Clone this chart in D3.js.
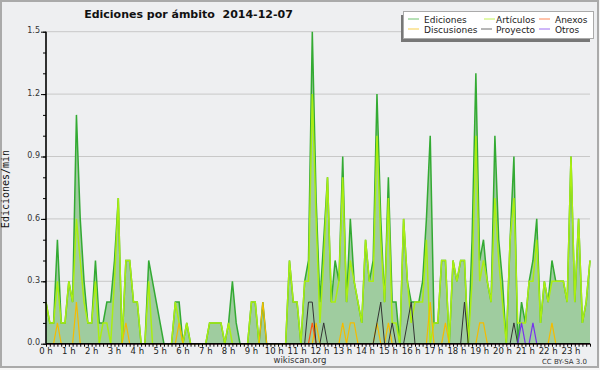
<!DOCTYPE html>
<html lang="es">

<head>
  <meta charset="UTF-8">
  <title>Ediciones por ámbito 2014-12-07</title>
  <style>
    body {
      margin: 0;
      background: #f5f5f5;
    }

    text {
      font-family: 'DejaVu Sans', sans-serif;
    }
  </style>
</head>

<body>
  <div id="chart"></div>

  <script src="https://cdnjs.cloudflare.com/ajax/libs/d3/7.8.5/d3.min.js"></script>
  <script>
    // Edits per minute, one value every 10 minutes (144 slots)
    let ediciones = [
      0.2, 0.1, 0.1, 0.5, 0.1, 0.1, 0.3, 0.2, 1.1, 0.6, 0.3, 0.1,
      0.1, 0.4, 0.1, 0.1, 0.2, 0.2, 0.4, 0.7, 0, 0.4, 0.4, 0.2,
      0.2, 0, 0, 0.4, 0.3, 0.2, 0.1, 0, 0, 0, 0.2, 0.2,
      0, 0.1, 0, 0, 0, 0, 0, 0.1, 0.1, 0.1, 0.1, 0,
      0.1, 0.3, 0.1, 0, 0, 0, 0.2, 0.2, 0, 0.2, 0, 0,
      0, 0, 0, 0, 0.4, 0.2, 0.2, 0, 0.3, 0.4, 1.5, 0.7,
      0.2, 0.5, 0.8, 0.2, 0.4, 0.3, 0.9, 0.2, 0.6, 0.3, 0.2, 0.1,
      0.5, 0.3, 0.4, 1.2, 0.6, 0.2, 0.8, 0.2, 0.2, 0, 0.6, 0.3,
      0.2, 0.2, 0.2, 0.3, 0.6, 1.0, 0.1, 0.1, 0.4, 0.4, 0, 0.4,
      0.3, 0.4, 0.4, 0, 0.5, 1.3, 0.4, 0.5, 0.3, 0.2, 1.0, 0.5,
      0.3, 0, 0.5, 0.9, 0, 0.2, 0.1, 0.3, 0.4, 0.6, 0.1, 0.3,
      0.2, 0.4, 0.3, 0.3, 0.3, 0.2, 0.9, 0.2, 0.6, 0.1, 0.2, 0.4
    ];

    let articulos = [
      0.2, 0.1, 0.1, 0.3, 0.1, 0.1, 0.3, 0.2, 0.6, 0.4, 0.2, 0.1,
      0.1, 0.3, 0, 0.1, 0.1, 0, 0.3, 0.7, 0, 0.4, 0.4, 0.2,
      0.2, 0, 0, 0.3, 0, 0, 0, 0, 0, 0, 0.2, 0.1,
      0, 0.1, 0, 0, 0, 0, 0, 0.1, 0.1, 0.1, 0.1, 0,
      0.1, 0, 0, 0, 0, 0, 0.2, 0.2, 0, 0, 0, 0,
      0, 0, 0, 0, 0.4, 0.2, 0.2, 0, 0.3, 0.3, 1.2, 0.6,
      0.1, 0.4, 0.8, 0.2, 0.2, 0.3, 0.8, 0.2, 0.4, 0.3, 0.2, 0.1,
      0.5, 0.3, 0.3, 1.0, 0.5, 0.2, 0.7, 0.1, 0.1, 0, 0.6, 0.3,
      0.1, 0.2, 0.2, 0.2, 0.5, 0, 0.1, 0.1, 0.4, 0.4, 0, 0.4,
      0.3, 0.4, 0.4, 0, 0.3, 1.0, 0.3, 0.4, 0.3, 0.2, 0.7, 0.4,
      0.2, 0, 0.5, 0.7, 0.1, 0.1, 0.1, 0.3, 0.3, 0.5, 0.1, 0.3,
      0.2, 0.3, 0.3, 0.3, 0.3, 0.2, 0.9, 0.2, 0.6, 0.1, 0.2, 0.4
    ];

    let discusiones = [
      0, 0, 0, 0.1, 0, 0, 0, 0, 0.2, 0, 0, 0,
      0, 0, 0, 0, 0, 0, 0, 0, 0, 0.1, 0, 0,
      0, 0, 0, 0, 0, 0, 0, 0, 0, 0, 0, 0.1,
      0, 0, 0, 0, 0, 0, 0, 0, 0, 0, 0, 0,
      0, 0, 0, 0, 0, 0, 0, 0, 0, 0.2, 0, 0,
      0, 0, 0, 0, 0, 0, 0, 0, 0, 0, 0, 0.1,
      0, 0, 0, 0, 0, 0, 0.1, 0, 0.1, 0.1, 0, 0,
      0, 0, 0, 0.1, 0, 0, 0.1, 0, 0, 0, 0, 0,
      0, 0, 0, 0, 0, 0.2, 0, 0, 0, 0.1, 0, 0,
      0, 0, 0, 0, 0, 0, 0.1, 0.1, 0, 0, 0, 0,
      0, 0, 0, 0, 0, 0, 0, 0, 0, 0, 0, 0,
      0, 0.1, 0, 0, 0, 0, 0, 0, 0, 0, 0, 0
    ];

    let proyecto = [
      0, 0, 0, 0, 0, 0, 0, 0, 0, 0, 0, 0,
      0, 0, 0, 0, 0, 0, 0, 0, 0, 0, 0, 0,
      0, 0, 0, 0, 0, 0, 0, 0, 0, 0, 0, 0,
      0, 0, 0, 0, 0, 0, 0, 0, 0, 0, 0, 0,
      0, 0, 0, 0, 0, 0, 0, 0, 0, 0, 0, 0,
      0, 0, 0, 0, 0, 0, 0, 0, 0, 0.2, 0.2, 0,
      0, 0.1, 0, 0, 0, 0, 0, 0, 0, 0, 0, 0,
      0, 0, 0, 0.1, 0.2, 0, 0, 0.1, 0, 0, 0, 0.1,
      0.2, 0, 0, 0, 0, 0, 0, 0, 0, 0, 0, 0,
      0, 0, 0.2, 0, 0, 0, 0, 0, 0, 0, 0, 0,
      0, 0, 0, 0.1, 0, 0, 0, 0, 0, 0, 0, 0,
      0, 0, 0, 0, 0, 0, 0, 0, 0, 0, 0, 0
    ];

    let anexos = [
      0, 0, 0, 0, 0, 0, 0, 0, 0, 0, 0, 0,
      0, 0, 0, 0, 0, 0, 0, 0, 0, 0, 0, 0,
      0, 0, 0, 0, 0, 0, 0, 0, 0, 0, 0, 0,
      0, 0, 0, 0, 0, 0, 0, 0, 0, 0, 0, 0,
      0, 0, 0, 0, 0, 0, 0, 0, 0, 0, 0, 0,
      0, 0, 0, 0, 0, 0, 0, 0, 0, 0, 0.1, 0,
      0, 0, 0, 0, 0, 0, 0, 0, 0, 0, 0, 0,
      0, 0, 0, 0, 0, 0, 0, 0, 0, 0, 0, 0,
      0, 0, 0, 0, 0, 0, 0, 0, 0, 0, 0, 0,
      0, 0, 0, 0, 0, 0, 0, 0, 0, 0, 0, 0,
      0, 0, 0, 0, 0, 0, 0, 0, 0, 0, 0, 0,
      0, 0, 0, 0, 0, 0, 0, 0, 0, 0, 0, 0
    ];

    let otros = [
      0, 0, 0, 0, 0, 0, 0, 0, 0, 0, 0, 0,
      0, 0, 0, 0, 0, 0, 0, 0, 0, 0, 0, 0,
      0, 0, 0, 0, 0, 0, 0, 0, 0, 0, 0, 0,
      0, 0, 0, 0, 0, 0, 0, 0, 0, 0, 0, 0,
      0, 0, 0, 0, 0, 0, 0, 0, 0, 0, 0, 0,
      0, 0, 0, 0, 0, 0, 0, 0, 0, 0, 0, 0,
      0, 0, 0, 0, 0, 0, 0, 0, 0, 0, 0, 0,
      0, 0, 0, 0, 0, 0, 0, 0, 0, 0, 0, 0,
      0, 0, 0, 0, 0, 0, 0, 0, 0, 0, 0, 0,
      0, 0, 0, 0, 0, 0, 0, 0, 0, 0, 0, 0,
      0, 0, 0, 0, 0, 0.1, 0, 0, 0.1, 0, 0, 0,
      0, 0, 0, 0, 0, 0, 0, 0, 0, 0, 0, 0
    ];

    // Hour labels every 6 slots
    let hours = d3.range(0, 24);
    let yTicks = [0, 0.3, 0.6, 0.9, 1.2, 1.5];

    let width = 600;
    let height = 370;
    let plot = { left: 46, right: 590, top: 31.7, bottom: 343.7 };

    let svg = d3.select('#chart').append('svg')
      .attr('width', width)
      .attr('height', height);

    // Outer frame
    svg.append('rect')
      .attr('x', 1).attr('y', 1)
      .attr('width', 597).attr('height', 366)
      .style('fill', '#eeeff1')
      .style('stroke', '#aaa')
      .style('stroke-width', 2);

    let xScale = d3.scaleLinear()
      .domain([0, ediciones.length - 1])
      .range([plot.left, plot.right]);
    let yScale = d3.scaleLinear()
      .domain([0, 1.5])
      .range([plot.bottom, plot.top]);

    // Horizontal grid
    svg.append('g')
      .selectAll('line')
      .data(yTicks.slice(1))
      .enter().append('line')
      .attr('x1', plot.left).attr('x2', plot.right)
      .attr('y1', d => yScale(d)).attr('y2', d => yScale(d))
      .style('stroke', '#c8c8c8')
      .style('stroke-width', 1);

    // Filled area under total edits
    let area = d3.area()
      .x((d, i) => xScale(i))
      .y0(yScale(0))
      .y1(d => yScale(d));
    svg.append('path')
      .datum(ediciones)
      .attr('d', area)
      .style('fill', '#9fcc9f');

    let line = d3.line()
      .x((d, i) => xScale(i))
      .y(d => yScale(d));

    let series = [
      { name: 'Ediciones', values: ediciones, color: '#33aa33', w: 1.5 },
      { name: 'Artículos', values: articulos, color: '#aaee11', w: 1.5 },
      { name: 'Discusiones', values: discusiones, color: '#f5bb00', w: 1.2 },
      { name: 'Anexos', values: anexos, color: '#ff5511', w: 1.2 },
      { name: 'Proyecto', values: proyecto, color: '#333', w: 1 },
      { name: 'Otros', values: otros, color: '#7733ee', w: 1.2 }
    ];

    series.forEach(s => {
      svg.append('path')
        .datum(s.values)
        .attr('d', line)
        .style('fill', 'none')
        .style('stroke', s.color)
        .style('stroke-width', s.w)
        .style('stroke-linejoin', 'miter');
    });

    // X axis: a tick per slot, hour labels
    let xAxis = d3.axisBottom(xScale)
      .tickValues(d3.range(0, ediciones.length))
      .tickSize(3)
      .tickFormat('');
    let xAxisGroup = svg.append('g')
      .attr('transform', `translate(0, ${plot.bottom})`)
      .call(xAxis);
    xAxisGroup.select('.domain')
      .attr('d', `M${plot.left},0H${plot.right}`)
      .style('stroke', '#000')
      .style('stroke-width', 1.6);
    xAxisGroup.selectAll('.tick line').style('stroke', '#000');

    svg.append('g')
      .selectAll('text')
      .data(hours)
      .enter().append('text')
      .attr('x', d => xScale(d * 6))
      .attr('y', 354)
      .style('text-anchor', 'middle')
      .style('font-size', '8.5px')
      .style('fill', '#222')
      .text(d => d + ' h');

    // Y axis with minor ticks every 0.1
    let yMinor = d3.axisLeft(yScale)
      .tickValues(d3.range(0, 16).map(d => d / 10))
      .tickSize(3)
      .tickFormat('');
    let yMinorGroup = svg.append('g')
      .attr('transform', `translate(${plot.left}, 0)`)
      .call(yMinor);
    yMinorGroup.select('.domain').remove();

    let yAxis = d3.axisLeft(yScale)
      .tickValues(yTicks)
      .tickSize(5)
      .tickPadding(1)
      .tickFormat(d3.format('.1f'));
    let yAxisGroup = svg.append('g')
      .attr('transform', `translate(${plot.left}, 0)`)
      .call(yAxis);
    yAxisGroup.select('.domain')
      .attr('d', `M0,${plot.bottom}V${plot.top}`)
      .style('stroke', '#000')
      .style('stroke-width', 1.6);
    yAxisGroup.selectAll('.tick text')
      .style('font-family', "'DejaVu Sans', sans-serif")
      .style('font-size', '8px')
      .style('fill', '#333')
      .attr('dy', '0.15em');

    // Axis title
    svg.append('text')
      .attr('transform', 'translate(9, 189) rotate(-90)')
      .style('text-anchor', 'middle')
      .style('font-family', "'DejaVu Sans Mono', monospace")
      .style('font-size', '10px')
      .style('fill', '#111')
      .text('Ediciones/min');

    // Title
    svg.append('text')
      .attr('x', 188.5)
      .attr('y', 18)
      .style('text-anchor', 'middle')
      .style('font-weight', 'bold')
      .style('font-size', '11px')
      .style('fill', '#111')
      .text('Ediciones por ámbito\u00a0\u00a02014-12-07');

    // Footer
    svg.append('text')
      .attr('x', 300)
      .attr('y', 363)
      .style('text-anchor', 'middle')
      .style('font-size', '8.5px')
      .style('fill', '#333')
      .text('wikiscan.org');
    svg.append('text')
      .attr('x', 587)
      .attr('y', 364)
      .style('text-anchor', 'end')
      .style('font-size', '7px')
      .style('fill', '#333')
      .text('CC BY-SA 3.0');

    // Legend box with shadow
    let legend = svg.append('g');
    legend.append('rect')
      .attr('x', 401).attr('y', 15)
      .attr('width', 189).attr('height', 27)
      .style('fill', '#777');
    legend.append('rect')
      .attr('x', 403.5).attr('y', 11.5)
      .attr('width', 190).attr('height', 27)
      .style('fill', '#fff')
      .style('stroke', '#aaa')
      .style('stroke-width', 1);

    let legendOrder = ['Ediciones', 'Artículos', 'Anexos', 'Discusiones', 'Proyecto', 'Otros'];
    let legendPos = [
      { lx: 408, tx: 424, y: 19 },
      { lx: 484, tx: 496, y: 19 },
      { lx: 539, tx: 555, y: 19 },
      { lx: 408, tx: 424, y: 29 },
      { lx: 481, tx: 496, y: 29 },
      { lx: 539, tx: 555, y: 29 }
    ];

    legendOrder.forEach((name, i) => {
      let s = series.find(d => d.name === name);
      let p = legendPos[i];
      legend.append('line')
        .attr('x1', p.lx).attr('x2', p.lx + 11)
        .attr('y1', p.y).attr('y2', p.y)
        .style('stroke', s.color)
        .style('stroke-width', 1)
        .style('opacity', 0.7);
      legend.append('text')
        .attr('x', p.tx)
        .attr('y', p.y + 3.5)
        .style('font-size', '9px')
        .style('fill', '#222')
        .text(name);
    });
  </script>
</body>

</html>
